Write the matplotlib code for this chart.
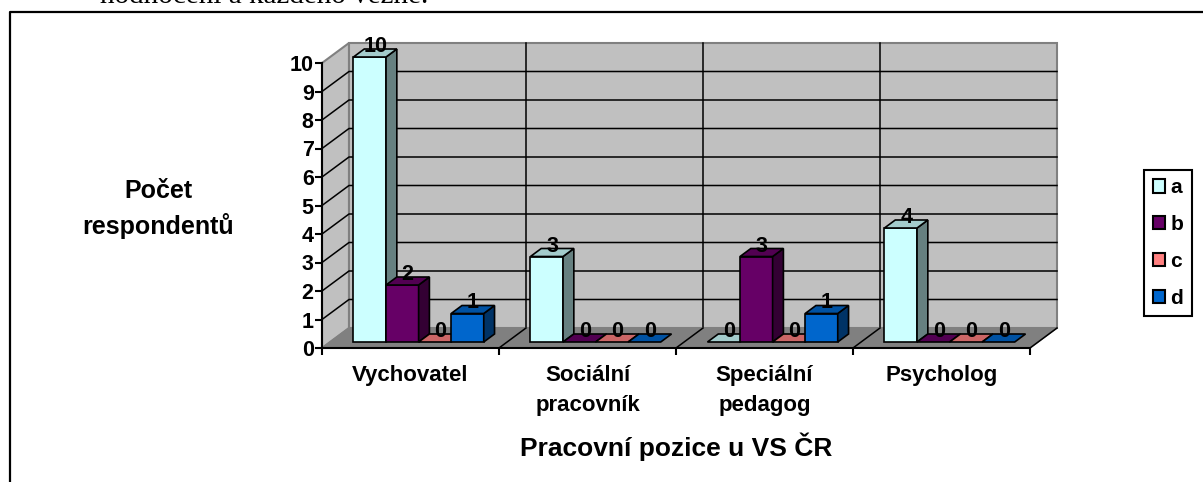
import matplotlib
matplotlib.use("Agg")
import matplotlib.pyplot as plt
from matplotlib.patches import Polygon, Patch
from matplotlib.lines import Line2D
from matplotlib.colors import to_rgb

plt.rcParams['font.family'] = ['Liberation Sans', 'DejaVu Sans']
plt.rcParams['font.weight'] = 'bold'

# data
categories = ["Vychovatel", "Sociální\npracovník", "Speciální\npedagog", "Psycholog"]
series_names = ["a", "b", "c", "d"]
series_a = [10, 3, 0, 4]
series_b = [2, 0, 3, 0]
series_c = [0, 0, 0, 0]
series_d = [1, 0, 1, 0]
series_colors = ["#CCFFFF", "#660066", "#FF8080", "#0066CC"]
y_ticks = list(range(0, 11))

W, H = 1203, 482
fig = plt.figure(figsize=(W / 100, H / 100), dpi=100)
fig.patch.set_facecolor("white")

# front plane of the chart in pixel terms
ax = fig.add_axes([322 / W, (H - 348) / H, 708 / W, 285 / H])
ax.set_xlim(0, len(categories))
ax.set_ylim(0, 10)
ax.patch.set_visible(False)

# depth vector (data units) for the fake 3D look
DX, DY = 27 / 177, 20 / 28.5
f0, f1 = 0.3, 0.7      # bar depth range
bw = 0.184             # bar width
n = len(categories)


def shade(c, k):
    r, g, b = to_rgb(c)
    return (r * k, g * k, b * k)


def poly(pts, fc, ec, lw=1.2, z=1):
    p = Polygon(pts, closed=True, facecolor=fc, edgecolor=ec, lw=lw,
                zorder=z, clip_on=False, joinstyle='miter')
    ax.add_patch(p)


def line(xs, ys, c="black", lw=1.1, z=1):
    ax.add_line(Line2D(xs, ys, color=c, lw=lw, zorder=z, clip_on=False))


# walls
poly([(0, 0), (DX, DY), (DX, 10 + DY), (0, 10)], "#C0C0C0", "#808080", 1.5, 0.1)
poly([(DX, DY), (n + DX, DY), (n + DX, 10 + DY), (DX, 10 + DY)],
     "#C0C0C0", "#808080", 1.5, 0.1)
for k in y_ticks[1:-1]:
    line([0, DX, n + DX], [k, k + DY, k + DY], z=0.5)
for k in range(1, n):
    line([k + DX, k + DX], [DY, 10 + DY], z=0.5)

# floor
poly([(0, 0), (n, 0), (n + DX, DY), (DX, DY)], "#808080", "#808080", 1.0, 0.8)
for k in range(1, n + 1):
    line([k, k + DX], [0, DY], z=0.9)

# bars
all_series = [series_a, series_b, series_c, series_d]
z = 2
for i in range(n):
    for j, (vals, col) in enumerate(zip(all_series, series_colors)):
        v = vals[i]
        x0 = i + 0.5 - 2 * bw + j * bw
        x1 = x0 + bw
        ax0, ax1 = x0 + f0 * DX, x1 + f0 * DX
        bx0, bx1 = x0 + f1 * DX, x1 + f1 * DX
        y0, y1 = f0 * DY, f1 * DY
        if v > 0:
            poly([(ax0, y0), (ax1, y0), (ax1, v + y0), (ax0, v + y0)], col, "black", z=z)
            poly([(ax1, y0), (bx1, y1), (bx1, v + y1), (ax1, v + y0)],
                 shade(col, 0.5), "black", z=z)
        poly([(ax0, v + y0), (ax1, v + y0), (bx1, v + y1), (bx0, v + y1)],
             shade(col, 0.8), "black", z=z)
        z += 0.1
        ax.annotate(str(v), xy=((x0 + x1) / 2 + 0.5 * DX, v + 0.5 * DY),
                    xytext=(0, -4), textcoords="offset pixels",
                    ha="center", va="bottom", fontsize=15.5, fontweight="bold",
                    zorder=10, annotation_clip=False)

# axes
for s in ["top", "right"]:
    ax.spines[s].set_visible(False)
for s in ["left", "bottom"]:
    ax.spines[s].set_linewidth(1.5)
    ax.spines[s].set_zorder(20)
ax.set_yticks(y_ticks)
ax.tick_params(axis="y", length=5, width=1.5, pad=1, labelsize=15.5)
ax.set_xticks(range(n + 1))
ax.set_xticklabels([])
ax.set_xticks([i + 0.5 for i in range(n)], minor=True)
ax.set_xticklabels(categories, minor=True)
ax.tick_params(axis="x", which="major", length=5, width=1.5)
ax.tick_params(axis="x", which="minor", length=0, pad=12, labelsize=16)
for t in ax.get_xticklabels(minor=True):
    t.set_linespacing(1.6)
    t.set_verticalalignment("top")
for t in ax.get_yticklabels():
    t.set_fontweight("bold")

fig.text(158 / W, 1 - 209 / H, "Počet\nrespondentů", ha="center", va="center",
         fontsize=18, fontweight="bold", linespacing=1.45)
fig.text(676 / W, 1 - 447 / H, "Pracovní pozice u VS ČR", ha="center", va="center",
         fontsize=19, fontweight="bold")

# legend
handles = [Patch(facecolor=c, edgecolor="black", lw=1.5) for c in series_colors]
leg = fig.legend(handles, series_names, loc="center",
                 bbox_to_anchor=(1168 / W, 1 - 243 / H), fontsize=15,
                 frameon=True, fancybox=False, edgecolor="black", framealpha=1,
                 handlelength=0.6, handleheight=0.6, handletextpad=0.25,
                 labelspacing=0.85, borderpad=0.4, borderaxespad=0)
leg.get_frame().set_linewidth(1.5)
for t in leg.get_texts():
    t.set_fontweight("bold")

# outer frame and the cut-off document line above it
fig.add_artist(Line2D([10 / W, 10 / W, 1.0], [0, 1 - 12 / H, 1 - 12 / H],
                      transform=fig.transFigure, color="black", lw=1.6))
fig.text(100 / W, 1 - 3 / H, "hodnocení a každého vězně.", family="Liberation Serif",
         fontweight="normal", fontsize=21, va="baseline")

fig.savefig("out.png", dpi=100)
